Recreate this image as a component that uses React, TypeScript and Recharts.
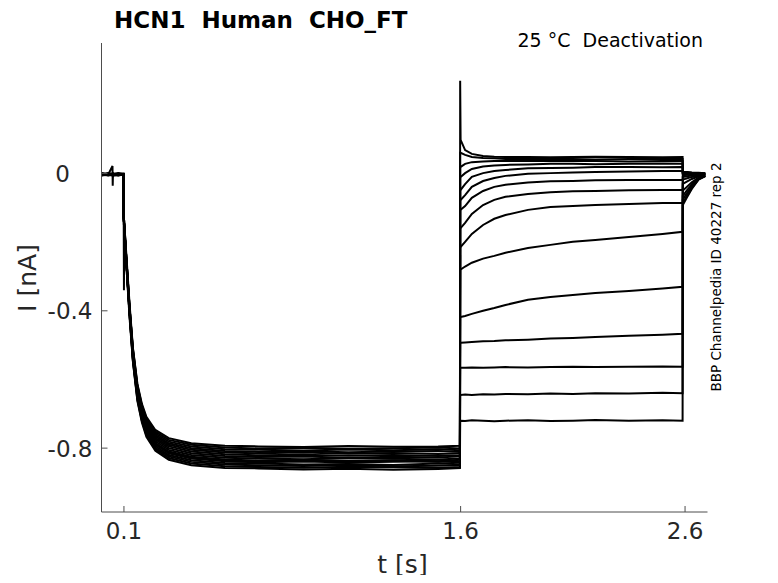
import { LineChart, Line, XAxis, YAxis } from 'recharts';

// holding at 0 before the activation step
const holdTimes = [0, 0.03, 0.049, 0.05, 0.051, 0.075, 0.098];
const holdValues = [
  [0.001, -0.003, 0.022, -0.036, -0.002, 0.001, -0.002],
  [-0.003, 0.001, -0.002, -0.004, -0.003, -0.001, -0.004],
  [-0.005, -0.002, -0.004, -0.003, -0.005, -0.006, -0.003],
  [0.0, -0.004, -0.001, -0.002, 0.0, -0.003, -0.001],
  [-0.002, -0.005, -0.003, -0.002, -0.004, -0.002, -0.005],
  [-0.004, 0.0, -0.002, -0.003, -0.001, -0.004, -0.002],
  [-0.001, -0.003, -0.005, -0.004, -0.002, 0.0, -0.003],
  [-0.006, -0.004, -0.002, -0.003, -0.006, -0.003, -0.004],
  [-0.002, -0.001, -0.003, -0.005, -0.003, -0.005, -0.002],
  [-0.003, -0.006, -0.004, -0.002, -0.004, -0.002, -0.006],
  [0.001, -0.002, 0.0, -0.001, -0.003, -0.001, 0.0],
  [-0.004, -0.003, -0.006, -0.004, -0.002, -0.005, -0.003],
  [-0.002, -0.004, -0.001, -0.003, -0.005, -0.002, -0.004],
  [-0.005, -0.002, -0.003, -0.006, -0.004, -0.003, -0.002],
  [-0.003, -0.001, -0.004, -0.002, -0.001, -0.004, -0.003],
];

// activation
const actTimes = [0.099, 0.1, 0.101, 0.11, 0.125, 0.14, 0.16, 0.18, 0.2, 0.24, 0.3, 0.4, 0.55];
const actValues = [
  [-0.13, -0.14, -0.15, -0.25, -0.41, -0.54, -0.65, -0.713, -0.753, -0.794, -0.82, -0.835, -0.843],
  [-0.12, -0.14, -0.15, -0.24, -0.4, -0.527, -0.636, -0.696, -0.736, -0.775, -0.8, -0.815, -0.823],
  [-0.13, -0.15, -0.16, -0.26, -0.42, -0.549, -0.663, -0.725, -0.767, -0.808, -0.834, -0.85, -0.858],
  [-0.12, -0.13, -0.14, -0.24, -0.39, -0.517, -0.625, -0.683, -0.722, -0.761, -0.786, -0.8, -0.808],
  [-0.13, -0.14, -0.15, -0.25, -0.4, -0.533, -0.644, -0.704, -0.744, -0.785, -0.81, -0.825, -0.833],
  [-0.13, -0.34, -0.16, -0.24, -0.39, -0.511, -0.617, -0.675, -0.713, -0.752, -0.776, -0.79, -0.798],
  [-0.13, -0.14, -0.15, -0.25, -0.41, -0.543, -0.655, -0.717, -0.758, -0.799, -0.824, -0.84, -0.848],
  [-0.12, -0.14, -0.15, -0.25, -0.4, -0.524, -0.632, -0.692, -0.731, -0.771, -0.795, -0.81, -0.818],
  [-0.13, -0.14, -0.15, -0.25, -0.4, -0.536, -0.648, -0.708, -0.749, -0.789, -0.815, -0.83, -0.838],
  [-0.12, -0.13, -0.14, -0.23, -0.38, -0.508, -0.613, -0.671, -0.709, -0.747, -0.771, -0.786, -0.793],
  [-0.13, -0.14, -0.15, -0.25, -0.4, -0.53, -0.64, -0.7, -0.74, -0.78, -0.805, -0.82, -0.828],
  [-0.13, -0.15, -0.16, -0.26, -0.41, -0.546, -0.659, -0.721, -0.762, -0.803, -0.829, -0.845, -0.853],
  [-0.12, -0.14, -0.15, -0.24, -0.39, -0.52, -0.628, -0.687, -0.727, -0.766, -0.79, -0.805, -0.813],
  [-0.12, -0.13, -0.14, -0.24, -0.39, -0.514, -0.621, -0.679, -0.718, -0.757, -0.781, -0.795, -0.803],
  [-0.13, -0.14, -0.15, -0.25, -0.4, -0.535, -0.646, -0.707, -0.747, -0.788, -0.813, -0.828, -0.836],
];

// steady state at -0.8 nA
const plateauTimes = [0.7, 0.9, 1.1, 1.3, 1.5, 1.597];
const plateauValues = [
  [-0.845, -0.848, -0.846, -0.849, -0.845, -0.847],
  [-0.826, -0.824, -0.828, -0.825, -0.827, -0.824],
  [-0.859, -0.862, -0.86, -0.863, -0.861, -0.858],
  [-0.811, -0.809, -0.812, -0.81, -0.808, -0.811],
  [-0.836, -0.834, -0.837, -0.835, -0.838, -0.834],
  [-0.801, -0.799, -0.802, -0.8, -0.798, -0.801],
  [-0.85, -0.852, -0.849, -0.853, -0.851, -0.85],
  [-0.821, -0.819, -0.822, -0.82, -0.823, -0.821],
  [-0.841, -0.839, -0.842, -0.84, -0.838, -0.842],
  [-0.795, -0.797, -0.794, -0.796, -0.795, -0.793],
  [-0.83, -0.832, -0.829, -0.831, -0.833, -0.83],
  [-0.855, -0.857, -0.854, -0.856, -0.858, -0.855],
  [-0.815, -0.813, -0.816, -0.814, -0.817, -0.815],
  [-0.805, -0.807, -0.804, -0.806, -0.803, -0.806],
  [-0.838, -0.836, -0.839, -0.837, -0.84, -0.838],
];

// deactivation steps
const deactTimes = [1.598, 1.6, 1.62, 1.65, 1.7, 1.75, 1.8, 1.9, 2.0, 2.1, 2.2, 2.35, 2.5, 2.589];
const deactValues = [
  [0.27, 0.098, 0.068, 0.057, 0.051, 0.049, 0.048, 0.048, 0.047, 0.048, 0.049, 0.048, 0.047, 0.048],
  [0.06, 0.06, 0.054, 0.048, 0.045, 0.044, 0.042, 0.042, 0.043, 0.042, 0.041, 0.042, 0.043, 0.042],
  [0.019, 0.019, 0.028, 0.033, 0.035, 0.036, 0.036, 0.036, 0.037, 0.036, 0.036, 0.035, 0.036, 0.036],
  [-0.01, -0.01, 0.001, 0.013, 0.02, 0.023, 0.025, 0.026, 0.028, 0.028, 0.027, 0.028, 0.029, 0.028],
  [-0.048, -0.048, -0.031, -0.01, 0.001, 0.007, 0.01, 0.015, 0.016, 0.017, 0.019, 0.019, 0.018, 0.019],
  [-0.077, -0.077, -0.063, -0.039, -0.022, -0.013, -0.007, -0.001, 0.001, 0.003, 0.004, 0.006, 0.007, 0.007],
  [-0.106, -0.106, -0.095, -0.071, -0.051, -0.039, -0.033, -0.026, -0.023, -0.022, -0.02, -0.019, -0.019, -0.019],
  [-0.159, -0.159, -0.144, -0.118, -0.092, -0.077, -0.068, -0.06, -0.055, -0.052, -0.051, -0.049, -0.048, -0.048],
  [-0.214, -0.214, -0.199, -0.176, -0.15, -0.132, -0.121, -0.106, -0.098, -0.095, -0.092, -0.089, -0.086, -0.086],
  [-0.28, -0.28, -0.271, -0.26, -0.248, -0.24, -0.231, -0.217, -0.208, -0.199, -0.194, -0.185, -0.176, -0.17],
  [-0.418, -0.418, -0.415, -0.409, -0.4, -0.392, -0.383, -0.368, -0.36, -0.354, -0.348, -0.342, -0.335, -0.33],
  [-0.493, -0.493, -0.492, -0.491, -0.489, -0.488, -0.486, -0.484, -0.481, -0.479, -0.476, -0.473, -0.47, -0.467],
  [-0.566, -0.566, -0.566, -0.565, -0.566, -0.565, -0.564, -0.565, -0.564, -0.563, -0.564, -0.563, -0.562, -0.563],
  [-0.645, -0.645, -0.644, -0.645, -0.643, -0.644, -0.642, -0.643, -0.641, -0.642, -0.64, -0.641, -0.639, -0.64],
  [-0.72, -0.72, -0.721, -0.719, -0.72, -0.722, -0.72, -0.719, -0.721, -0.72, -0.718, -0.72, -0.719, -0.72],
];

// tail back at holding
const tailTimes = [2.59, 2.61, 2.63, 2.66, 2.69];
const tailValues = [
  [0.004, 0.004, 0.003, 0.002, 0.001],
  [0.003, 0.003, 0.002, 0.001, 0.0],
  [0.002, 0.002, 0.001, 0.0, 0.0],
  [0.001, 0.0, 0.0, -0.001, -0.001],
  [0.0, -0.001, -0.001, -0.002, -0.002],
  [-0.002, -0.002, -0.002, -0.002, -0.002],
  [-0.005, -0.004, -0.003, -0.003, -0.002],
  [-0.01, -0.008, -0.006, -0.004, -0.003],
  [-0.018, -0.014, -0.01, -0.006, -0.004],
  [-0.03, -0.023, -0.016, -0.008, -0.005],
  [-0.05, -0.038, -0.026, -0.012, -0.006],
  [-0.065, -0.048, -0.033, -0.014, -0.007],
  [-0.075, -0.056, -0.038, -0.016, -0.007],
  [-0.085, -0.063, -0.042, -0.017, -0.008],
  [-0.092, -0.068, -0.045, -0.018, -0.008],
];

const xTicks = [0.1, 1.6, 2.6];
const yTicks = [-0.8, -0.4, 0];

const times = [...holdTimes, ...actTimes, ...plateauTimes, ...deactTimes, ...tailTimes];
const sweeps = holdValues.map((_, i) => [
  ...holdValues[i],
  ...actValues[i],
  ...plateauValues[i],
  ...deactValues[i],
  ...tailValues[i],
]);
const data = times.map((t, j) => {
  const row: Record<string, number> = { t };
  sweeps.forEach((s, i) => {
    row['s' + i] = s[j];
  });
  return row;
});

const FONT = 'DejaVu Sans';
const AXIS = '#4d4d4d';
const TEXT = '#262626';

function XTick(props: any) {
  const { x, y, payload } = props;
  return (
    <g>
      <line x1={x} x2={x} y1={y} y2={y - 6} stroke={AXIS} />
      <text x={x} y={y + 26.5} textAnchor="middle" fontFamily={FONT} fontSize={23} fill={TEXT}>
        {payload.value}
      </text>
    </g>
  );
}

function YTick(props: any) {
  const { x, y, payload } = props;
  const tx = payload.value === 0 ? x - 31.5 : x - 9;
  return (
    <g>
      <line x1={x} x2={x + 6} y1={y} y2={y} stroke={AXIS} />
      <text x={tx} y={y + 8.5} textAnchor="end" fontFamily={FONT} fontSize={23} fill={TEXT}>
        {payload.value}
      </text>
    </g>
  );
}

export default function App() {
  return (
    <div style={{ position: 'relative', width: 770, height: 567 }}>
      <LineChart
        width={770}
        height={567}
        data={data}
        margin={{ top: 35, right: 70.5, bottom: 0, left: 0 }}
      >
        <XAxis
          dataKey="t"
          type="number"
          domain={[0, 2.7]}
          ticks={xTicks}
          allowDataOverflow
          height={63}
          tickSize={0}
          tickMargin={0}
          tickLine={false}
          axisLine={{ stroke: AXIS }}
          tick={<XTick />}
        />
        <YAxis
          type="number"
          domain={[-0.986, 0.38]}
          ticks={yTicks}
          allowDataOverflow
          width={93.5}
          tickSize={0}
          tickMargin={0}
          tickLine={false}
          axisLine={{ stroke: AXIS }}
          tick={<YTick />}
        />
        {sweeps.map((_, i) => (
          <Line
            key={i}
            dataKey={'s' + i}
            type="linear"
            stroke="#000"
            strokeWidth={2}
            dot={false}
            activeDot={false}
            isAnimationActive={false}
          />
        ))}
      </LineChart>
      <svg
        width={770}
        height={567}
        style={{ position: 'absolute', left: 0, top: 0, overflow: 'visible', pointerEvents: 'none', whiteSpace: 'pre' }}
      >
        <text x={106} y={20} fontFamily={FONT} fontSize={23} fontWeight="bold" fill="#000" style={{ whiteSpace: 'pre' }}>
          {'HCN1  Human  CHO_FT'}
        </text>
        <text x={695} y={39} textAnchor="end" fontFamily={FONT} fontSize={19} fill="#000" style={{ whiteSpace: 'pre' }}>
          {'25 °C  Deactivation'}
        </text>
        <text
          x={713}
          y={269}
          textAnchor="middle"
          fontFamily={FONT}
          fontSize={13.5}
          fill="#000"
          transform="rotate(-90 713 269)"
        >
          BBP Channelpedia ID 40227 rep 2
        </text>
        <text
          x={28}
          y={270}
          textAnchor="middle"
          fontFamily={FONT}
          fontSize={25}
          fill={TEXT}
          transform="rotate(-90 28 270)"
        >
          I [nA]
        </text>
        <text x={394.5} y={565} textAnchor="middle" fontFamily={FONT} fontSize={25} fill={TEXT}>
          t [s]
        </text>
      </svg>
    </div>
  );
}
